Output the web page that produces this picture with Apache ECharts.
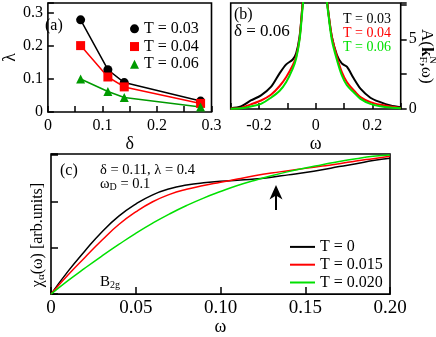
<!DOCTYPE html>
<html>
<head>
<meta charset="utf-8">
<script src="https://cdn.jsdelivr.net/npm/echarts@6/dist/echarts.min.js"></script>
<style>
  html, body { margin: 0; padding: 0; background: #fff; }
  #chart { width: 436px; height: 337px; }
</style>
</head>
<body>
<div id="chart"></div>
<script>
// panel (a): lambda vs delta
var deltaA = [0.06, 0.11, 0.14, 0.28];
var lamT003 = [0.279, 0.128, 0.089, 0.033];
var lamT004 = [0.201, 0.106, 0.076, 0.026];
var lamT006 = [0.100, 0.062, 0.044, 0.015];

// panel (b): spectral function, delta = 0.06
var omegaB = [-0.30, -0.264, -0.229, -0.193, -0.158, -0.128, -0.104, -0.081, -0.069, -0.057, -0.049, -0.04, 0,
              0.04, 0.045, 0.057, 0.075, 0.092, 0.11, 0.134, 0.158, 0.193, 0.228, 0.264, 0.30];
var specT003 = [0.06, 0.18, 0.61, 0.98, 1.58, 2.54, 3.2, 3.55, 3.99, 5.19, 6.88, 9.5, 40,
                7.9, 6.88, 5.19, 3.87, 3.27, 3.03, 2.2, 1.46, 0.81, 0.49, 0.25, 0.12];
var specT004 = [0.03, 0.08, 0.33, 0.61, 1.02, 1.63, 2.3, 3.14, 3.74, 5.07, 6.88, 9.3, 40,
                7.9, 6.88, 5.19, 3.75, 2.66, 1.94, 1.35, 0.85, 0.49, 0.3, 0.18, 0.08];
var specT006 = [0.02, 0.05, 0.18, 0.37, 0.81, 1.29, 1.94, 2.9, 3.62, 4.95, 6.63, 9.0, 40,
                7.7, 6.76, 4.95, 3.51, 2.42, 1.7, 1.2, 0.73, 0.37, 0.2, 0.1, 0.05];

// panel (c): Raman response B2g
var omegaC = [0, 0.01, 0.02, 0.03, 0.04, 0.05, 0.06, 0.07, 0.08, 0.09, 0.10,
              0.11, 0.12, 0.13, 0.14, 0.15, 0.16, 0.17, 0.18, 0.19, 0.20];
var chiT0 = [0, 0.49, 0.93, 1.34, 1.68, 1.94, 2.14, 2.27, 2.35, 2.40, 2.43,
             2.455, 2.48, 2.52, 2.57, 2.62, 2.68, 2.75, 2.81, 2.88, 2.93];
var chiT015 = [0, 0.41, 0.79, 1.16, 1.50, 1.77, 1.99, 2.15, 2.26, 2.34, 2.41,
               2.48, 2.55, 2.61, 2.66, 2.71, 2.76, 2.81, 2.87, 2.92, 2.97];
var chiT020 = [0, 0.29, 0.56, 0.82, 1.07, 1.31, 1.53, 1.73, 1.91, 2.07, 2.21,
               2.34, 2.45, 2.55, 2.64, 2.72, 2.79, 2.86, 2.92, 2.97, 3.0];

var ff = '"Liberation Serif", "Times New Roman", serif';
var green = '#00e000';
var darkGreen = '#009a00';

function pairs(xs, ys) {
    return xs.map(function (x, i) { return [x, ys[i]]; });
}
function near(a, b) { return Math.abs(a - b) < 1e-6; }

var tickStyle = { inside: true, length: 6, lineStyle: { color: '#000', width: 1.5 } };
var noLine = { show: false, onZero: false };

var myChart = echarts.init(document.getElementById('chart'), null, { renderer: 'canvas' });

myChart.setOption({
    animation: false,
    textStyle: { fontFamily: ff, color: '#000' },
    grid: [
        { left: 41.5, top: 3, width: 170, height: 109, show: true, borderColor: '#000', borderWidth: 1.6 },
        { left: 230.7, top: 3, width: 170, height: 106, show: true, borderColor: '#000', borderWidth: 1.6 },
        { left: 51, top: 154, width: 339, height: 148, show: true, borderColor: '#000', borderWidth: 1.6 }
    ],
    xAxis: [
        {
            gridIndex: 0, type: 'value', min: 0, max: 0.3, interval: 0.05,
            axisLine: noLine, splitLine: { show: false }, axisTick: tickStyle,
            axisLabel: {
                fontSize: 16, fontFamily: ff, color: '#000', margin: 6,
                formatter: function (v) {
                    var r = Math.round(v * 100);
                    if (r % 10 !== 0) return '';
                    return r === 0 ? '0' : (r / 100).toFixed(1);
                }
            },
            name: 'δ', nameLocation: 'middle', nameGap: 18,
            nameTextStyle: { fontSize: 18, fontFamily: ff, color: '#000' }
        },
        {
            gridIndex: 1, type: 'value', min: -0.3, max: 0.3, interval: 0.1,
            axisLine: noLine, splitLine: { show: false }, axisTick: tickStyle,
            axisLabel: {
                fontSize: 16, fontFamily: ff, color: '#000', margin: 9,
                formatter: function (v) {
                    var r = Math.round(v * 10);
                    if (r % 2 !== 0 || Math.abs(r) > 2) return '';
                    return r === 0 ? '0' : (r / 10).toFixed(1);
                }
            },
            name: 'ω', nameLocation: 'middle', nameGap: 19,
            nameTextStyle: { fontSize: 18, fontFamily: ff, color: '#000' }
        },
        {
            gridIndex: 2, type: 'value', min: 0, max: 0.2, interval: 0.05,
            axisLine: noLine, splitLine: { show: false },
            axisTick: { inside: true, length: 7, lineStyle: { color: '#000', width: 1.5 } },
            axisLabel: {
                fontSize: 19, fontFamily: ff, color: '#000', margin: 4,
                formatter: function (v) { return near(v, 0) ? '0' : v.toFixed(2); }
            },
            name: 'ω', nameLocation: 'middle', nameGap: 18,
            nameTextStyle: { fontSize: 18, fontFamily: ff, color: '#000' }
        }
    ],
    yAxis: [
        {
            gridIndex: 0, type: 'value', min: 0, max: 0.33, interval: 0.1,
            axisLine: noLine, splitLine: { show: false }, axisTick: tickStyle,
            axisLabel: {
                fontSize: 16, fontFamily: ff, color: '#000', margin: 5,
                formatter: function (v) {
                    if (v > 0.31) return '';
                    return near(v, 0) ? '0' : v.toFixed(1);
                }
            },
            name: 'λ', nameLocation: 'middle', nameGap: 28,
            nameTextStyle: { fontSize: 18, fontFamily: ff, color: '#000' }
        },
        {
            gridIndex: 1, type: 'value', position: 'right', min: 0, max: 7.6, interval: 2.5,
            axisLine: noLine, splitLine: { show: false },
            axisTick: { inside: false, length: 6, lineStyle: { color: '#000', width: 1.5 } },
            axisLabel: {
                fontSize: 16, fontFamily: ff, color: '#000', margin: 8,
                formatter: function (v) {
                    if (near(v, 0)) return '0';
                    if (near(v, 5)) return '5';
                    return '';
                }
            }
        },
        {
            gridIndex: 2, type: 'value', min: 0, max: 3.02, interval: 1,
            axisLine: noLine, splitLine: { show: false },
            axisTick: { inside: true, length: 7, lineStyle: { color: '#000', width: 1.5 } },
            axisLabel: { show: false }
        }
    ],
    legend: [
        {
            left: 125, top: 15, orient: 'vertical', itemWidth: 9, itemHeight: 9, itemGap: 0,
            textStyle: { fontSize: 16, fontFamily: ff, color: '#000', lineHeight: 17.7 },
            data: [
                { name: 'T = 0.03', icon: 'circle' },
                { name: 'T = 0.04', icon: 'rect' },
                { name: 'T = 0.06', icon: 'triangle' }
            ]
        },
        {
            left: 333, top: 7, orient: 'vertical', itemWidth: 0, itemHeight: 0, itemGap: 0, icon: 'none',
            textStyle: { fontSize: 14, fontFamily: ff, lineHeight: 12.5 },
            formatter: function (name) { return name.replace(' (b)', ''); },
            data: [
                { name: 'T = 0.03 (b)', textStyle: { color: '#000' } },
                { name: 'T = 0.04 (b)', textStyle: { color: '#ff0000' } },
                { name: 'T = 0.06 (b)', textStyle: { color: green } }
            ]
        },
        {
            left: 285, top: 233, orient: 'vertical', itemWidth: 25, itemHeight: 2, itemGap: 0, icon: 'rect',
            textStyle: { fontSize: 16, fontFamily: ff, color: '#000', lineHeight: 17.8 },
            data: ['T = 0', 'T = 0.015', 'T = 0.020']
        }
    ],
    series: [
        // (a)
        { name: 'T = 0.03', type: 'line', xAxisIndex: 0, yAxisIndex: 0, data: pairs(deltaA, lamT003),
          symbol: 'circle', symbolSize: 9, color: '#000', lineStyle: { width: 1.5 } },
        { name: 'T = 0.04', type: 'line', xAxisIndex: 0, yAxisIndex: 0, data: pairs(deltaA, lamT004),
          symbol: 'rect', symbolSize: 9, color: '#ff0000', lineStyle: { width: 1.5 } },
        { name: 'T = 0.06', type: 'line', xAxisIndex: 0, yAxisIndex: 0, data: pairs(deltaA, lamT006),
          symbol: 'triangle', symbolSize: 9, color: darkGreen, lineStyle: { width: 1.5 } },
        // (b)
        { name: 'T = 0.03 (b)', type: 'line', xAxisIndex: 1, yAxisIndex: 1, data: pairs(omegaB, specT003),
          symbol: 'none', smooth: 0.3, clip: true, color: '#000', lineStyle: { width: 2 } },
        { name: 'T = 0.04 (b)', type: 'line', xAxisIndex: 1, yAxisIndex: 1, data: pairs(omegaB, specT004),
          symbol: 'none', smooth: 0.3, clip: true, color: '#ff0000', lineStyle: { width: 2 } },
        { name: 'T = 0.06 (b)', type: 'line', xAxisIndex: 1, yAxisIndex: 1, data: pairs(omegaB, specT006),
          symbol: 'none', smooth: 0.3, clip: true, color: green, lineStyle: { width: 2 } },
        // (c)
        { name: 'T = 0', type: 'line', xAxisIndex: 2, yAxisIndex: 2, data: pairs(omegaC, chiT0),
          symbol: 'none', smooth: true, color: '#000', lineStyle: { width: 1.5 } },
        { name: 'T = 0.015', type: 'line', xAxisIndex: 2, yAxisIndex: 2, data: pairs(omegaC, chiT015),
          symbol: 'none', smooth: true, color: '#ff0000', lineStyle: { width: 1.5 } },
        { name: 'T = 0.020', type: 'line', xAxisIndex: 2, yAxisIndex: 2, data: pairs(omegaC, chiT020),
          symbol: 'none', smooth: true, color: green, lineStyle: { width: 1.5 } }
    ],
    graphic: [
        { type: 'text', x: 45, y: 26, style: { text: '(a)', font: '16px ' + ff, fill: '#000', textVerticalAlign: 'middle', verticalAlign: 'middle' } },
        { type: 'text', x: 234, y: 15, style: { text: '(b)', font: '16px ' + ff, fill: '#000', textVerticalAlign: 'middle', verticalAlign: 'middle' } },
        { type: 'text', x: 234, y: 32, style: { text: 'δ = 0.06', font: '17px ' + ff, fill: '#000', textVerticalAlign: 'middle', verticalAlign: 'middle' } },
        { type: 'text', x: 60, y: 171, style: { text: '(c)', font: '16px ' + ff, fill: '#000', textVerticalAlign: 'middle', verticalAlign: 'middle' } },
        { type: 'text', x: 100, y: 170, style: { text: 'δ = 0.11, λ = 0.4', font: '14.5px ' + ff, fill: '#000', textVerticalAlign: 'middle', verticalAlign: 'middle' } },
        {
            type: 'text', x: 100, y: 184,
            style: {
                text: '{m|ω}{s|D}{m| = 0.1}', fill: '#000', textVerticalAlign: 'middle', verticalAlign: 'middle',
                rich: {
                    m: { fontSize: 14.5, fontFamily: ff, lineHeight: 16 },
                    s: { fontSize: 10, fontFamily: ff, lineHeight: 6, verticalAlign: 'bottom' }
                }
            }
        },
        {
            type: 'text', x: 100, y: 282,
            style: {
                text: '{m|B}{s|2g}', fill: '#000', textVerticalAlign: 'middle', verticalAlign: 'middle',
                rich: {
                    m: { fontSize: 15, fontFamily: ff, lineHeight: 16 },
                    s: { fontSize: 10, fontFamily: ff, lineHeight: 6, verticalAlign: 'bottom' }
                }
            }
        },
        {
            type: 'text', x: 38, y: 235, rotation: Math.PI / 2,
            style: {
                text: '{m|χ}{s|α}{m|(ω) [arb.units]}', fill: '#000',
                textAlign: 'center', align: 'center', textVerticalAlign: 'middle', verticalAlign: 'middle',
                rich: {
                    m: { fontSize: 16, fontFamily: ff, lineHeight: 18 },
                    s: { fontSize: 11, fontFamily: ff, lineHeight: 7, verticalAlign: 'bottom' }
                }
            }
        },
        {
            type: 'group', x: 426, y: 58, rotation: -Math.PI / 2,
            children: [
                {
                    type: 'text', x: -29, y: 0,
                    style: {
                        text: '{m|A(}{b|k}{s|F}{m|,ω)}', fill: '#000', textVerticalAlign: 'middle', verticalAlign: 'middle',
                        rich: {
                            m: { fontSize: 17, fontFamily: ff, lineHeight: 18 },
                            b: { fontSize: 17, fontFamily: ff, fontWeight: 'bold', lineHeight: 18 },
                            s: { fontSize: 11, fontFamily: ff, lineHeight: 6, verticalAlign: 'bottom' }
                        }
                    }
                },
                { type: 'text', x: -2, y: -7, style: { text: 'N', font: '11px ' + ff, fill: '#000', textVerticalAlign: 'middle', verticalAlign: 'middle' } }
            ]
        },
        // arrow in (c)
        { type: 'line', shape: { x1: 276, y1: 195, x2: 276, y2: 210 }, style: { stroke: '#000', lineWidth: 2 } },
        { type: 'polygon', shape: { points: [[276, 185], [269.5, 199.5], [276, 195.5], [282.5, 199.5]] }, style: { fill: '#000' } }
    ]
});
</script>
</body>
</html>
